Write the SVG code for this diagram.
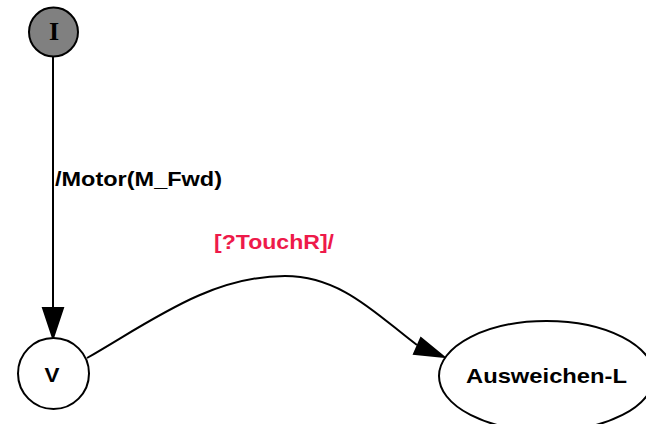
<svg xmlns="http://www.w3.org/2000/svg" width="646" height="424" viewBox="0 0 646 424">
<style>
.node{fill:#ffffff;stroke:#000000;stroke-width:2}
.lbl{font-family:"Liberation Sans",Arial,sans-serif;font-weight:bold;font-size:21px;fill:#000000}
.edge{fill:none;stroke:#000000;stroke-width:2}
.head{fill:#000000;stroke:#000000;stroke-width:2}
</style>
<rect x="0" y="0" width="646" height="424" fill="#ffffff"/>
<g id="connectors">
<g id="e_I_V">
<path class="edge" d="M53,57 L53,308"/>
<polygon class="head" points="43,308 63,308 53,338"/>
<text class="lbl" x="55" y="186" textLength="167" lengthAdjust="spacingAndGlyphs">/Motor(M_Fwd)</text>
</g>
<g id="e_V_A">
<path class="edge" d="M87,358 C150,322 210,276 285,276 C342,276 378,316 417,345"/>
<polygon class="head" points="421,338 414,354 444,357"/>
<text class="lbl" x="214" y="249" textLength="120" lengthAdjust="spacingAndGlyphs" style="fill:#ee1a4a">[?TouchR]/</text>
</g>
</g>
<g id="node_I">
<circle cx="53.5" cy="32" r="24.5" class="node" style="fill:#808080"/>
<text x="54" y="40" text-anchor="middle" style="font-family:'Liberation Serif','Times New Roman',serif;font-weight:bold;font-size:26px">I</text>
</g>
<g id="node_V">
<circle cx="53.5" cy="373.5" r="35.5" class="node"/>
<text class="lbl" x="52" y="382" text-anchor="middle" textLength="15" lengthAdjust="spacingAndGlyphs">V</text>
</g>
<g id="node_A">
<ellipse cx="546.5" cy="376" rx="107.5" ry="55" class="node"/>
<text class="lbl" x="466" y="383" textLength="161" lengthAdjust="spacingAndGlyphs">Ausweichen-L</text>
</g>
</svg>
